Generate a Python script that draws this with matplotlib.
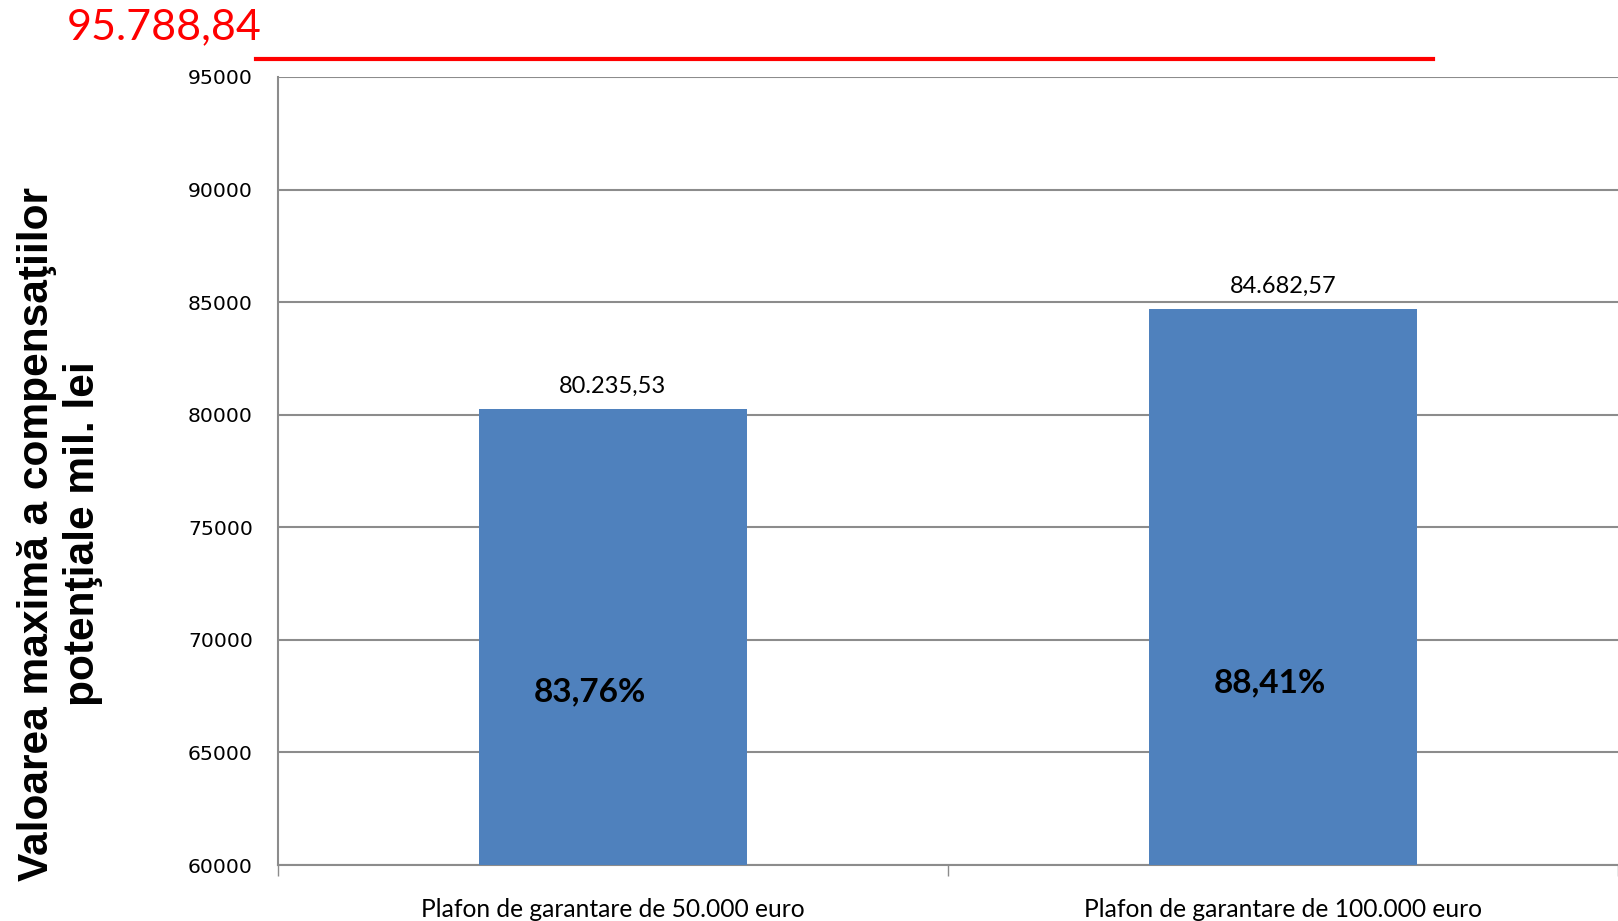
import matplotlib.pyplot as plt

categories = ["Plafon de garantare de 50.000 euro", "Plafon de garantare de 100.000 euro"]
values = [80235.53, 84682.57]
value_labels = ["80.235,53", "84.682,57"]
pct_labels = ["83,76%", "88,41%"]
total = 95788.84
total_label = "95.788,84"

fig = plt.figure(figsize=(16.18, 9.21), dpi=100)
ax = fig.add_axes([0.1718, 0.0608, 0.8282, 0.8556])

x = list(range(len(categories)))
ax.bar(x, values, width=0.4, color="#4F81BD", zorder=3)
ax.set_xlim(-0.5, 1.5)
ax.set_ylim(60000, 95000)
ax.set_yticks(range(60000, 95001, 5000))
ax.yaxis.grid(True, color="#8c8c8c", linewidth=1.5, zorder=0)

for s in ["top", "right"]:
    ax.spines[s].set_visible(False)
for s in ["left", "bottom"]:
    ax.spines[s].set_color("#8c8c8c")
    ax.spines[s].set_linewidth(1.5)

# category boundaries get the ticks, labels sit at the bar centres
ax.set_xticks([-0.5, 0.5, 1.5])
ax.set_xticklabels([])
ax.set_xticks(x, minor=True)
ax.set_xticklabels(categories, minor=True, family="Lato", fontsize=17.7)
ax.tick_params(axis="x", which="major", length=8, width=1, color="#8c8c8c", direction="out")
ax.tick_params(axis="x", which="minor", length=0, pad=24)
ax.tick_params(axis="y", length=0, pad=18, labelsize=14.7)

for xi, v, lab in zip(x, values, value_labels):
    ax.text(xi, v + 550, lab, ha="center", va="bottom", fontsize=17, family="Lato")

pct_pos = [(-0.035, 67684), (0.98, 68084)]
for (px, py), lab in zip(pct_pos, pct_labels):
    ax.text(px, py, lab, ha="center", va="center", fontsize=24, fontweight="bold", family="Lato")

ax.plot([-0.533, 1.224], [total, total], color="#FF0000", linewidth=3, clip_on=False, zorder=4)
fig.text(164 / 1618, 1 - 27 / 921, total_label, color="#FF0000", fontsize=31,
         family="Lato", ha="center", va="center")

fig.text(60 / 1618, 1 - 534 / 921, "Valoarea maximă a compensaţiilor\npotenţiale mil. lei",
         rotation=90, ha="center", va="center", fontsize=30.6, fontweight="bold",
         family="Liberation Sans", linespacing=1.2, multialignment="center")

fig.savefig("out.png", dpi=100)
